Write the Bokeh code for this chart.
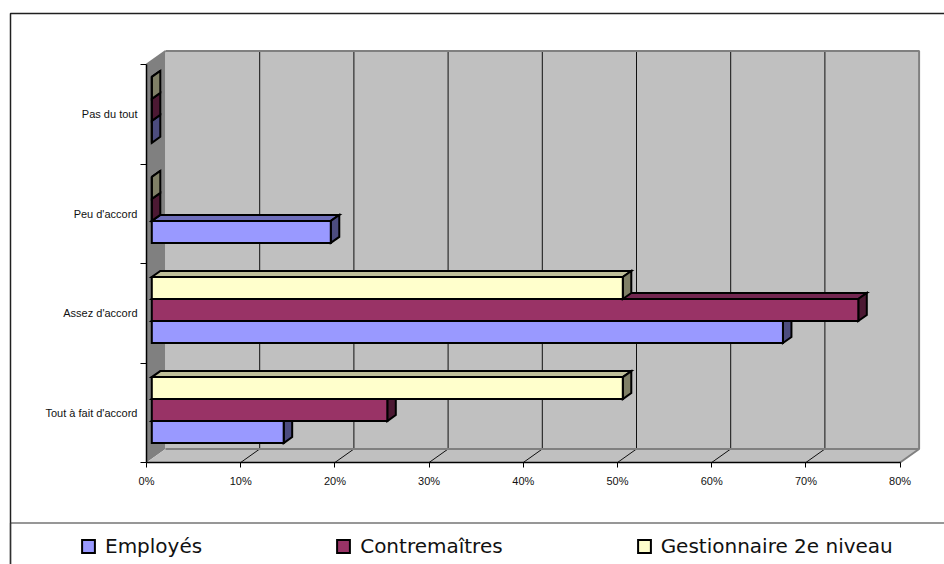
from bokeh.plotting import figure
from bokeh.embed import file_html
from bokeh.resources import INLINE
from bokeh.models import (ColumnDataSource, FixedTicker, Legend, LegendItem, BoxAnnotation, Range1d)

# ---- data ----
categories = ["Tout à fait d'accord", "Assez d'accord", "Peu d'accord", "Pas du tout"]
employes = [14, 67, 19, 0]
contremaitres = [25, 75, 0, 0]
gestionnaires = [50, 50, 0, 0]
x_ticks = [0, 10, 20, 30, 40, 50, 60, 70, 80]
x_labels = ["0%", "10%", "20%", "30%", "40%", "50%", "60%", "70%", "80%"]
series_names = ["Employés", "Contremaîtres", "Gestionnaire 2e niveau"]

# ---- geometry (px based scale constants) ----
W, H = 944, 564
PX_X = 9.42    # px per percent
PX_Y = 99.5    # px per category
X0, Y0 = 146, 462                    # pixel position of the origin
DX, DY = 19 / PX_X, 13.5 / PX_Y      # wall depth
OX = 5.3 / PX_X                      # bar offset from the front
BX, BY = 8.5 / PX_X, 6 / PX_Y        # bar depth
BH = 22 / PX_Y                       # bar height
B0, STEP = 19.4 / PX_Y, 1.006        # first bar bottom, category step

p = figure(width=W, height=H, output_backend="svg", toolbar_location=None,
           x_range=Range1d(-X0 / PX_X, (W - X0) / PX_X), y_range=Range1d((Y0 - H) / PX_Y, Y0 / PX_Y),
           min_border_left=0, min_border_right=0, min_border_top=0, min_border_bottom=0,
           background_fill_color="white", border_fill_color="white", outline_line_color=None)
p.grid.visible = False

n = len(categories)
GREY, GRID = "#808080", "#101010"
# walls
p.patch([0, DX, DX, 0], [0, DY, n + DY, n], fill_color=GREY, line_color=None)
p.patch([DX, x_ticks[-1] + DX, x_ticks[-1] + DX, DX], [DY, DY, n + DY, n + DY], fill_color="#C0C0C0", line_color=None)
p.patch([0, x_ticks[-1], x_ticks[-1] + DX, DX], [0, 0, DY, DY], fill_color="#C0C0C0", line_color=None)
# grid on wall and floor
inner = x_ticks[1:-1]
p.segment([t + DX for t in inner], [DY] * len(inner), [t + DX for t in inner], [n + DY] * len(inner), line_color=GRID, line_width=1)
p.segment(inner, [0] * len(inner), [t + DX for t in inner], [DY] * len(inner), line_color=GRID, line_width=1)
# wall edges
p.line([DX, x_ticks[-1] + DX, x_ticks[-1] + DX, DX], [n + DY, n + DY, DY, DY], line_color=GREY, line_width=2)
p.line([x_ticks[-1], x_ticks[-1] + DX], [0, DY], line_color=GREY, line_width=2)
p.line([0, DX], [n, n + DY], line_color=GREY, line_width=2)

colors = [("#9999FF", "#4C4C7F", "#6E6EBA"), ("#993366", "#4C1933", "#722650"), ("#FFFFCC", "#7F7F66", "#BFBF99")]
renderers = []
OUT = dict(line_color="black", line_width=2, line_join="miter")
for s, vals in enumerate([employes, contremaitres, gestionnaires]):
    front, side, top = colors[s]
    bottoms = [B0 + k * STEP + s * BH for k in range(n)]
    x1 = [OX + v for v in vals]
    # top faces
    xs = [[OX, x, x + BX, OX + BX] for x in x1]
    ys = [[b + BH, b + BH, b + BH + BY, b + BH + BY] for b in bottoms]
    p.patches(xs, ys, fill_color=top, **OUT)
    # side faces
    xs = [[x, x + BX, x + BX, x] for x in x1]
    ys = [[b, b + BY, b + BH + BY, b + BH] for b in bottoms]
    p.patches(xs, ys, fill_color=side, **OUT)
    # front faces
    src = ColumnDataSource(dict(left=[OX] * n, right=x1, bottom=bottoms, top=[b + BH for b in bottoms]))
    renderers.append(p.quad(left="left", right="right", bottom="bottom", top="top", source=src, fill_color=front, **OUT))

# axes
xa = p.xaxis[0]
xa.fixed_location = 0
xa.ticker = FixedTicker(ticks=x_ticks)
xa.major_label_overrides = dict(zip(x_ticks, x_labels))
xa.bounds = (x_ticks[0], x_ticks[-1])
xa.major_tick_in, xa.major_tick_out = 0, 5
xa.minor_tick_in = xa.minor_tick_out = 0
xa.major_label_standoff = 7
ya = p.yaxis[0]
ya.fixed_location = 0
centers = [k + 0.5 for k in range(n)]
ya.ticker = FixedTicker(ticks=centers, minor_ticks=list(range(n + 1)))
ya.major_label_overrides = dict(zip(centers, categories))
ya.bounds = (0, n)
ya.major_tick_in = ya.major_tick_out = 0
ya.minor_tick_in, ya.minor_tick_out = 0, 6
ya.minor_tick_line_color = "black"
ya.major_label_standoff = 3
for a in (xa, ya):
    a.axis_line_color = "black"
    a.axis_line_width = 1.5
    a.major_tick_line_color = "black"
    a.major_label_text_font = "Liberation Sans"
    a.major_label_text_font_size = "11px"
    a.major_label_text_color = "#111111"

legend = Legend(items=[LegendItem(label=nm, renderers=[r]) for nm, r in zip(series_names, renderers)],
                orientation="horizontal", location=(80, 6), spacing=133, padding=0, margin=0,
                glyph_width=16, glyph_height=16, label_standoff=9,
                label_text_font="DejaVu Sans", label_text_font_size="20px", label_text_color="#111111",
                background_fill_alpha=0, border_line_color=None)
p.add_layout(legend, "center")

# chart-area frame and legend separator
UNITS = dict(left_units="canvas", right_units="canvas", top_units="canvas", bottom_units="canvas")
p.add_layout(BoxAnnotation(left=10, right=W + 5, top=13, bottom=H + 5, fill_alpha=0,
                           line_color="#202020", line_alpha=1, line_width=1.5, **UNITS))
p.add_layout(BoxAnnotation(left=10, right=W + 5, top=522.5, bottom=H + 5, fill_alpha=0,
                           line_color="#303030", line_alpha=1, line_width=1.2, **UNITS))

open("out.html", "w").write(file_html(p, INLINE))
